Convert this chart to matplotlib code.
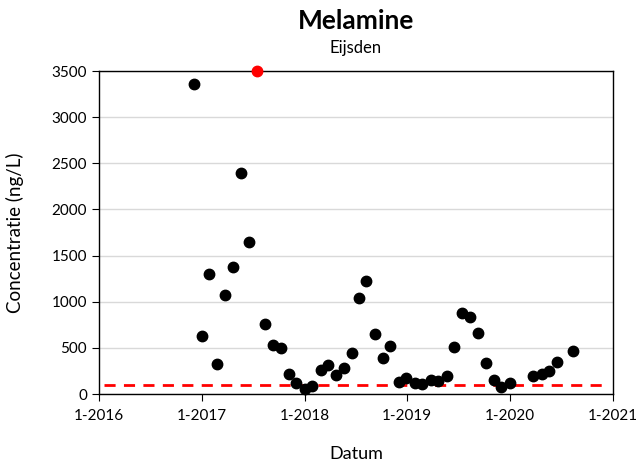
import matplotlib
matplotlib.use("Agg")
import matplotlib.pyplot as plt
import pandas as pd

plt.rcParams['font.family'] = ['Lato', 'DejaVu Sans']

dates = ["2016-12-03", "2017-01-01", "2017-01-26", "2017-02-23", "2017-03-24",
         "2017-04-21", "2017-05-20", "2017-06-17", "2017-08-13", "2017-09-10",
         "2017-10-08", "2017-11-06", "2017-11-30", "2018-01-01", "2018-01-26",
         "2018-02-27", "2018-03-24", "2018-04-21", "2018-05-20", "2018-06-17",
         "2018-07-12", "2018-08-09", "2018-09-10", "2018-10-08", "2018-11-02",
         "2018-12-04", "2018-12-29", "2019-01-27", "2019-02-24", "2019-03-25",
         "2019-04-19", "2019-05-21", "2019-06-15", "2019-07-13", "2019-08-11",
         "2019-09-08", "2019-10-07", "2019-11-04", "2019-11-29", "2019-12-31",
         "2020-03-22", "2020-04-23", "2020-05-18", "2020-06-16", "2020-08-11"]
values = [3360, 625, 1300, 320, 1075,
          1380, 2400, 1650, 760, 530,
          500, 215, 120, 50, 90,
          255, 310, 210, 285, 440,
          1040, 1225, 655, 395, 520,
          125, 175, 120, 110, 150,
          140, 200, 510, 875, 830,
          660, 340, 150, 75, 120,
          190, 215, 250, 350, 470]

high_dates = ["2017-07-15"]
high_values = [3500]

limit_value = 100
x_ticks = ["2016-01-01", "2017-01-01", "2018-01-01", "2019-01-01", "2020-01-01", "2021-01-01"]

fig = plt.figure(figsize=(6.41, 4.66), dpi=100)
ax_rect = [0.1545, 0.1545, 0.8015, 0.693]
ax = fig.add_axes(ax_rect)

xd = pd.to_datetime(dates)
ax.plot(xd, values, 'o', color='black', markersize=7.5, zorder=3, clip_on=False)
ax.plot(pd.to_datetime(high_dates), high_values, 'o', color='#ff0000', markersize=7.5,
        zorder=4, clip_on=False)
ax.axhline(limit_value, color='#ff0000', linestyle=(0, (4, 3)), linewidth=2, zorder=2,
           xmin=0.01, xmax=0.99)

xt = pd.to_datetime(x_ticks)
ax.set_xlim(xt[0], xt[-1])
ax.set_ylim(0, 3500)
ax.set_xticks(xt)
ax.set_xticklabels([f"{d.month}-{d.year}" for d in xt])
ax.set_yticks(range(0, 3501, 500))
ax.yaxis.grid(True, color='#d9d9d9', linewidth=1)
ax.set_axisbelow(True)

for s in ax.spines.values():
    s.set_color('black')
    s.set_linewidth(1)
ax.tick_params(axis='both', labelsize=11, direction='out', length=5, color='black')
ax.tick_params(axis='x', pad=6)

ax.set_xlabel("Datum", fontsize=13, labelpad=16)
ax.set_ylabel("Concentratie (ng/L)", fontsize=13.5, labelpad=20)

cx = ax_rect[0] + ax_rect[2] / 2
fig.text(cx, 0.955, "Melamine", ha='center', va='center', fontsize=19, fontweight='bold')
fig.text(cx, 0.897, "Eijsden", ha='center', va='center', fontsize=12)

fig.savefig("out.png", dpi=100)
